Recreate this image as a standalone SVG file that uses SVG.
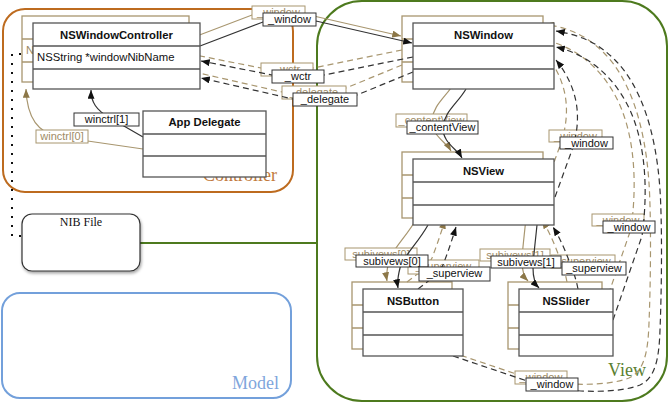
<svg xmlns="http://www.w3.org/2000/svg" width="669" height="404" viewBox="0 0 669 404">
  <style>
    .box{fill:#fff;stroke:#555;stroke-width:1.3}
    .sep{stroke:#555;stroke-width:1.3}
    .ttl{font:bold 11.3px "Liberation Sans",Arial,sans-serif;text-anchor:middle;fill:#111}
    .mem{font:11.3px "Liberation Sans",Arial,sans-serif;fill:#111}
    .lbl rect{fill:#fff;stroke:#333;stroke-width:1}
    .lbl text{font:11px "Liberation Sans",Arial,sans-serif;text-anchor:middle;fill:#111}
    .ln{fill:none;stroke:#333;stroke-width:1.2;marker-end:url(#ah)}
    .dash{stroke-dasharray:6 4}
    .old .box,.old .sep,.old .ln,.old .lbl rect,.tan .box,.tan.ln,.tan rect{stroke:#a8966f}
    .old .ln,.tan.ln{marker-end:url(#aht)}
    .old .lbl text,.old .mem,.tan text{fill:#a08c66}
    .zone{fill:none;stroke-width:2}
    .zname{font:18px "Liberation Serif","Times New Roman",serif}
  </style>
  <defs>
    <marker id="ah" viewBox="0 0 10 8" refX="10" refY="4" markerWidth="9" markerHeight="7" orient="auto" markerUnits="userSpaceOnUse">
      <path d="M0,0 L10,4 L0,8 z" fill="#111"/>
    </marker>
    <marker id="aht" viewBox="0 0 10 8" refX="10" refY="4" markerWidth="9" markerHeight="7" orient="auto" markerUnits="userSpaceOnUse">
      <path d="M0,0 L10,4 L0,8 z" fill="#8c7748"/>
    </marker>
    <filter id="drop" x="-10%" y="-10%" width="125%" height="130%">
      <feDropShadow dx="1" dy="2" stdDeviation="1.5" flood-color="#000" flood-opacity="0.35"/>
    </filter>
  </defs>

  <!-- MVC zones -->
  <g id="zones">
    <rect id="controller-zone" class="zone" x="3" y="9" width="290" height="183" rx="22" stroke="#bd6b1f"/>
    <text class="zname" x="203" y="181" fill="#c27a3c">Controller</text>
    <rect id="view-zone" class="zone" x="317" y="1" width="350" height="400" rx="45" stroke="#4d7a1e"/>
    <text class="zname" x="608" y="376" fill="#5a8030">View</text>
    <rect id="model-zone" class="zone" x="2" y="293" width="289" height="105" rx="18" stroke="#73a0db"/>
    <text class="zname" x="232" y="389" fill="#7fa6dc">Model</text>
    <line x1="140" y1="243" x2="317" y2="243" stroke="#4d7a1e" stroke-width="2"/>
    <path d="M21,54 H12 V236 H30" fill="none" stroke="#111" stroke-width="2" stroke-dasharray="2 7"/>
  </g>

  <!-- NIB file -->
  <g id="nib-file">
    <rect x="22" y="214" width="118" height="57" rx="10" fill="#fff" stroke="#333" stroke-width="1.2" filter="url(#drop)"/>
    <text x="81" y="226" font-family="Liberation Serif, Times New Roman, serif" font-size="12" text-anchor="middle" fill="#111">NIB File</text>
  </g>

  <!-- earlier object graph, drawn offset behind the current one -->
  <g id="previous-state" class="old" transform="translate(-11,-7)">
    <rect class="box" x="33" y="23" width="167" height="66"/>
    <line class="sep" x1="33" y1="46" x2="200" y2="46"/>
    <line class="sep" x1="33" y1="69" x2="200" y2="69"/>
    <text class="mem" x="37" y="61">NSString *windowNibName</text>
    <rect class="box" x="413" y="23" width="141" height="66"/>
    <line class="sep" x1="413" y1="46" x2="554" y2="46"/>
    <line class="sep" x1="413" y1="69" x2="554" y2="69"/>
    <rect class="box" x="413" y="159" width="141" height="66"/>
    <line class="sep" x1="413" y1="182" x2="554" y2="182"/>
    <line class="sep" x1="413" y1="205" x2="554" y2="205"/>
    <rect class="box" x="363" y="289" width="100" height="67"/>
    <line class="sep" x1="363" y1="312" x2="463" y2="312"/>
    <line class="sep" x1="363" y1="335" x2="463" y2="335"/>
    <rect class="box" x="519" y="289" width="94" height="67"/>
    <line class="sep" x1="519" y1="312" x2="613" y2="312"/>
    <line class="sep" x1="519" y1="335" x2="613" y2="335"/>

    <path class="ln" d="M200,46 L263,22 L316,21 L412,43"/>
    <path class="ln dash" d="M413,57 L324,75 L272,75 L201,61"/>
    <path class="ln dash" d="M413,72 L357,95 L293,99 L201,78"/>
    <path class="ln" d="M466,89 C458,103 444,112 443,127 C442,142 457,149 462,158"/>
    <path class="ln" d="M428,225 C418,243 402,258 400,268 C398,276 397,282 398,288"/>
    <path class="ln dash" d="M418,289 C428,281 438,275 443,265 C448,252 452,240 456,227"/>
    <path class="ln" d="M537,225 C535,245 533,260 533,268 C533,278 535,284 539,288"/>
    <path class="ln dash" d="M578,289 C576,278 572,268 568,258 C563,245 558,235 553,227"/>
    <path class="ln dash" d="M555,197 L572,150 C579,128 584,95 556,60"/>
    <path class="ln dash" d="M613,320 L642,236 C647,200 648,150 630,110 C615,78 590,55 556,47"/>
    <path class="ln dash" d="M453,356 L545,387 C580,393 620,393 640,385 C655,378 659,360 660,330 C662,280 662,220 660,190 C656,130 640,85 615,60 C600,45 585,36 556,31"/>

    <g class="lbl"><rect x="263" y="13" width="53" height="13"/><text x="289.5" y="22.5">_window</text></g>
    <g class="lbl"><rect x="272" y="70" width="52" height="13"/><text x="298" y="79.5">_wctr</text></g>
    <g class="lbl"><rect x="293" y="93" width="64" height="13"/><text x="325" y="102.5">_delegate</text></g>
    <g class="lbl"><rect x="407" y="121" width="71" height="13"/><text x="442.5" y="130.5">_contentView</text></g>
    <g class="lbl"><rect x="356" y="255" width="72" height="12"/><text x="392" y="264.5">subivews[0]</text></g>
    <g class="lbl"><rect x="419" y="267" width="71" height="14"/><text x="454.5" y="277">_superview</text></g>
    <g class="lbl"><rect x="491" y="256" width="70" height="12"/><text x="526" y="265.5">subivews[1]</text></g>
    <g class="lbl"><rect x="562" y="262" width="64" height="13"/><text x="594" y="271.5">_superview</text></g>
    <g class="lbl"><rect x="560" y="137" width="53" height="12"/><text x="586.5" y="146.5">_window</text></g>
    <g class="lbl"><rect x="603" y="221" width="52" height="12"/><text x="629" y="230.5">_window</text></g>
    <g class="lbl"><rect x="526" y="378" width="52" height="13"/><text x="552" y="387.5">_window</text></g>
  </g>

  <!-- current references -->
  <g id="connectors">
    <path class="ln" d="M200,46 L263,22 L316,21 L412,43"/>
    <path class="ln dash" d="M413,57 L324,75 L272,75 L201,61"/>
    <path class="ln dash" d="M413,72 L357,95 L293,99 L201,78"/>
    <path class="ln" d="M466,89 C458,103 444,112 443,127 C442,142 457,149 462,158"/>
    <path class="ln" d="M428,225 C418,243 402,258 400,268 C398,276 397,282 398,288"/>
    <path class="ln dash" d="M418,289 C428,281 438,275 443,265 C448,252 452,240 456,227"/>
    <path class="ln" d="M537,225 C535,245 533,260 533,268 C533,278 535,284 539,288"/>
    <path class="ln dash" d="M578,289 C576,278 572,268 568,258 C563,245 558,235 553,227"/>
    <path class="ln dash" d="M555,197 L572,150 C579,128 584,95 556,60"/>
    <path class="ln dash" d="M613,320 L642,236 C647,200 648,150 630,110 C615,78 590,55 556,47"/>
    <path class="ln dash" d="M453,356 L545,387 C580,393 620,393 640,385 C655,378 659,360 660,330 C662,280 662,220 660,190 C656,130 640,85 615,60 C600,45 585,36 556,31"/>
    <path class="ln" d="M143,137 L110,118 C96,110 91,102 91,90"/>
    <path class="ln tan" d="M143,149 L60,137 C40,134 27,120 26,89"/>
  </g>

  <g id="nswindowcontroller">
    <rect class="box" x="33" y="23" width="167" height="66"/>
    <line class="sep" x1="33" y1="46" x2="200" y2="46"/>
    <line class="sep" x1="33" y1="69" x2="200" y2="69"/>
    <text class="ttl" x="116.5" y="39">NSWindowController</text>
    <text class="mem" x="37" y="61">NSString *windowNibName</text>
  </g>

  <g id="app-delegate">
    <rect class="box" x="143" y="111" width="123" height="66"/>
    <line class="sep" x1="143" y1="134" x2="266" y2="134"/>
    <line class="sep" x1="143" y1="156" x2="266" y2="156"/>
    <text class="ttl" x="204.5" y="126">App Delegate</text>
  </g>

  <g id="nswindow">
    <rect class="box" x="413" y="23" width="141" height="66"/>
    <line class="sep" x1="413" y1="46" x2="554" y2="46"/>
    <line class="sep" x1="413" y1="69" x2="554" y2="69"/>
    <text class="ttl" x="483.5" y="39">NSWindow</text>
  </g>

  <g id="nsview">
    <rect class="box" x="413" y="159" width="141" height="66"/>
    <line class="sep" x1="413" y1="182" x2="554" y2="182"/>
    <line class="sep" x1="413" y1="205" x2="554" y2="205"/>
    <text class="ttl" x="483.5" y="175">NSView</text>
  </g>

  <g id="nsbutton">
    <rect class="box" x="363" y="289" width="100" height="67"/>
    <line class="sep" x1="363" y1="312" x2="463" y2="312"/>
    <line class="sep" x1="363" y1="335" x2="463" y2="335"/>
    <text class="ttl" x="413" y="305">NSButton</text>
  </g>

  <g id="nsslider">
    <rect class="box" x="519" y="289" width="94" height="67"/>
    <line class="sep" x1="519" y1="312" x2="613" y2="312"/>
    <line class="sep" x1="519" y1="335" x2="613" y2="335"/>
    <text class="ttl" x="566" y="305">NSSlider</text>
  </g>

  <!-- reference labels -->
  <g id="labels">
    <g class="lbl"><rect x="263" y="13" width="53" height="13"/><text x="289.5" y="22.5">_window</text></g>
    <g class="lbl"><rect x="272" y="70" width="52" height="13"/><text x="298" y="79.5">_wctr</text></g>
    <g class="lbl"><rect x="293" y="93" width="64" height="13"/><text x="325" y="102.5">_delegate</text></g>
    <g class="lbl"><rect x="407" y="121" width="71" height="13"/><text x="442.5" y="130.5">_contentView</text></g>
    <g class="lbl"><rect x="356" y="255" width="72" height="12"/><text x="392" y="264.5">subivews[0]</text></g>
    <g class="lbl"><rect x="419" y="267" width="71" height="14"/><text x="454.5" y="277">_superview</text></g>
    <g class="lbl"><rect x="491" y="256" width="70" height="12"/><text x="526" y="265.5">subivews[1]</text></g>
    <g class="lbl"><rect x="562" y="262" width="64" height="13"/><text x="594" y="271.5">_superview</text></g>
    <g class="lbl"><rect x="560" y="137" width="53" height="12"/><text x="586.5" y="146.5">_window</text></g>
    <g class="lbl"><rect x="603" y="221" width="52" height="12"/><text x="629" y="230.5">_window</text></g>
    <g class="lbl"><rect x="526" y="378" width="52" height="13"/><text x="552" y="387.5">_window</text></g>
    <g class="lbl"><rect x="74" y="113" width="65" height="13"/><text x="106.5" y="123">winctrl[1]</text></g>
    <g class="lbl tan"><rect x="36" y="130" width="52" height="13"/><text x="62" y="140">winctrl[0]</text></g>
  </g>
</svg>
